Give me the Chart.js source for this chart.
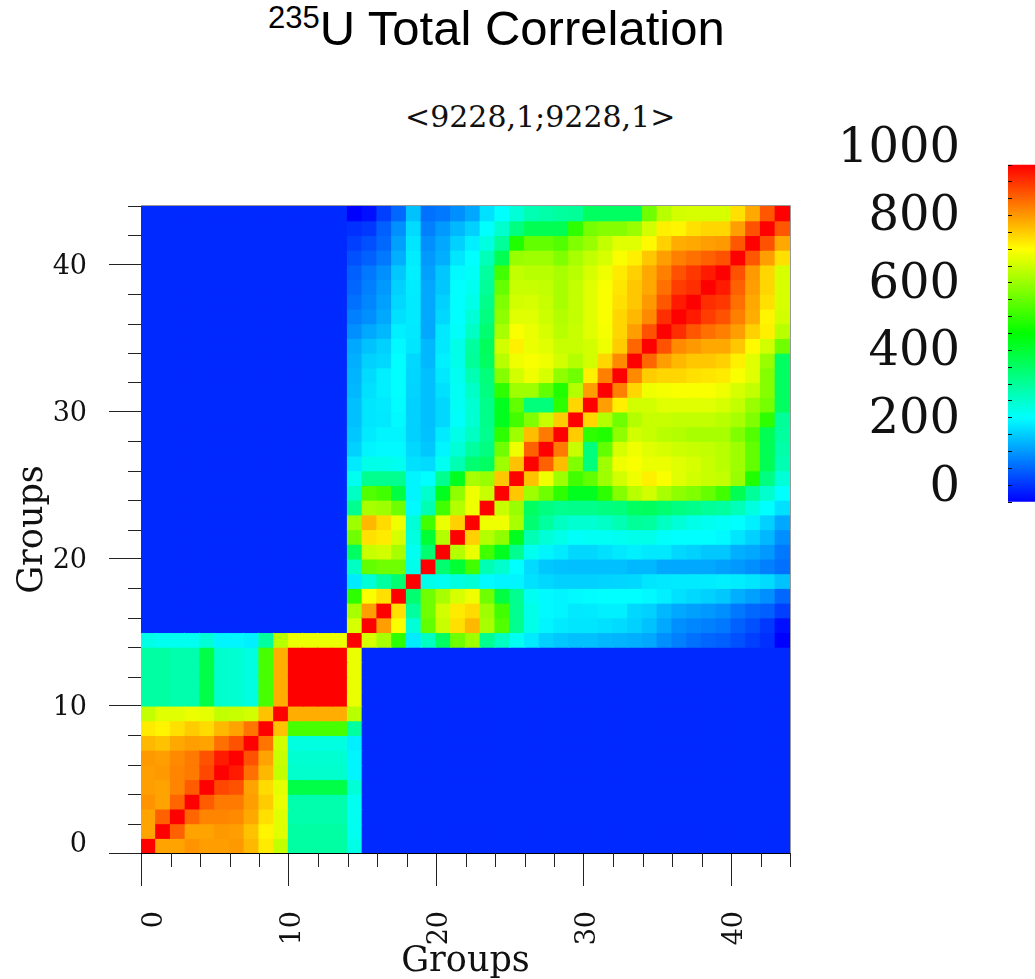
<!DOCTYPE html>
<html>
<head>
<meta charset="utf-8">
<title>235U Total Correlation</title>
<script src="https://cdn.jsdelivr.net/npm/chart.js@4"></script>
<style>
  html, body { margin: 0; background: #fff; overflow: hidden; }
  #page { position: relative; width: 1035px; height: 979px; overflow: hidden; }
  canvas { position: absolute; top: 0; }
  #matrix { left: 0; }
  #colorbar { left: 800px; }
  #title { position: absolute; left: 268px; top: -1px; font: 49px/58px "Liberation Sans", sans-serif; color: #000; white-space: nowrap; }
  #title sup { font-size: 31px; line-height: 0; vertical-align: 17px; }
  #subtitle { position: absolute; left: 405px; top: 99px; font: 30px/36px "DejaVu Serif", serif; color: #111; white-space: nowrap; }
</style>
</head>
<body>
<div id="page">
  <div id="title"><sup>235</sup>U Total Correlation</div>
  <div id="subtitle">&lt;9228,1;9228,1&gt;</div>
  <canvas id="matrix" width="800" height="979"></canvas>
  <canvas id="colorbar" width="235" height="520"></canvas>
</div>
<script>
/* colour scale: value and colour of each stop */
const stopValues = [0, 250, 500, 750, 1000];
const stopColors = [[0, 0, 255], [0, 255, 255], [0, 255, 0], [255, 255, 0], [255, 0, 0]];

const groupCount = 44;
const majorTicks = [0, 10, 20, 30, 40];
const minorTicks = [2, 4, 6, 8, 12, 14, 16, 18, 22, 24, 26, 28, 32, 34, 36, 38, 42, 44];
const colorbarLabels = [0, 200, 400, 600, 800, 1000];
const colorbarTicks = [0, 50, 100, 150, 200, 250, 300, 350, 400, 450, 500, 550, 600, 650, 700, 750, 800, 850, 900, 950, 1000];

/* groups 15-43 against groups 0-13: the plain blue blocks */
const noCoupling = [40, 40, 40, 40, 40, 40, 40, 40, 40, 40, 40, 40, 40, 40, 40, 40, 40, 40, 40, 40, 40, 40, 40, 40, 40, 40, 40, 40, 40];

/* upper triangle of the matrix: each row starts on the diagonal */
const upperRows = [
  [1000, 840, 840, 855, 845, 845, 850, 820, 770, 690, 340, 340, 340, 340, 275, ...noCoupling],
  [1000, 905, 840, 840, 850, 845, 810, 760, 720, 340, 340, 340, 340, 265, ...noCoupling],
  [1000, 900, 870, 870, 865, 835, 780, 720, 330, 330, 330, 330, 265, ...noCoupling],
  [1000, 910, 880, 880, 845, 800, 730, 330, 330, 330, 330, 265, ...noCoupling],
  [1000, 930, 920, 840, 785, 725, 430, 430, 430, 430, 290, ...noCoupling],
  [1000, 975, 890, 820, 690, 300, 300, 300, 300, 240, ...noCoupling],
  [1000, 920, 840, 695, 295, 295, 295, 295, 240, ...noCoupling],
  [1000, 885, 705, 280, 280, 280, 280, 235, ...noCoupling],
  [1000, 810, 570, 570, 570, 570, 345, ...noCoupling],
  [1000, 830, 830, 830, 830, 680, ...noCoupling],
  [1000, 1000, 1000, 1000, 730, ...noCoupling],
  [1000, 1000, 1000, 730, ...noCoupling],
  [1000, 1000, 730, ...noCoupling],
  [1000, 730, ...noCoupling],
  [1000, 710, 665, 545, 230, 310, 405, 610, 655, 360, 310, 265, 230, 205, 195, 188, 188, 180, 176, 172, 165, 140, 125, 110, 100, 94, 78, 62, 47, 0],
  [1000, 845, 745, 290, 595, 695, 780, 820, 665, 580, 360, 272, 240, 230, 225, 225, 220, 215, 205, 190, 165, 140, 132, 125, 118, 95, 78, 55, 15],
  [1000, 780, 345, 610, 705, 770, 785, 655, 565, 360, 272, 245, 240, 228, 230, 235, 235, 212, 205, 180, 165, 157, 150, 140, 118, 102, 94, 62],
  [1000, 390, 610, 665, 710, 735, 610, 435, 360, 265, 245, 240, 245, 248, 250, 250, 250, 245, 235, 220, 212, 205, 196, 172, 157, 140, 102],
  [1000, 270, 265, 280, 290, 245, 240, 240, 220, 212, 205, 205, 205, 208, 210, 212, 225, 228, 230, 230, 232, 235, 232, 225, 215, 190],
  [1000, 390, 450, 565, 325, 300, 250, 215, 196, 190, 188, 188, 188, 188, 180, 180, 165, 165, 165, 165, 157, 150, 140, 125, 110],
  [1000, 675, 730, 565, 470, 360, 265, 240, 230, 212, 212, 220, 228, 235, 228, 228, 212, 205, 196, 196, 172, 165, 150, 118],
  [1000, 795, 675, 640, 470, 325, 290, 272, 255, 260, 260, 265, 270, 272, 255, 250, 250, 250, 245, 225, 205, 180, 140],
  [1000, 735, 735, 665, 390, 345, 310, 295, 295, 305, 325, 350, 345, 310, 290, 272, 265, 258, 250, 235, 205, 165],
  [1000, 695, 650, 405, 375, 360, 365, 365, 375, 380, 405, 410, 390, 375, 365, 350, 345, 320, 280, 250, 220],
  [1000, 805, 655, 610, 545, 470, 470, 545, 630, 680, 705, 665, 640, 625, 600, 565, 420, 350, 300, 250],
  [1000, 810, 735, 655, 565, 595, 655, 705, 735, 765, 745, 720, 705, 695, 690, 650, 530, 375, 290],
  [1000, 905, 815, 625, 380, 655, 735, 745, 730, 730, 720, 710, 695, 680, 655, 595, 420, 325],
  [1000, 880, 695, 380, 595, 710, 735, 720, 710, 700, 695, 690, 680, 655, 595, 420, 335],
  [1000, 800, 545, 530, 640, 705, 695, 680, 675, 665, 665, 665, 625, 580, 420, 345],
  [1000, 790, 675, 610, 675, 695, 695, 690, 690, 690, 680, 665, 625, 545, 350],
  [1000, 845, 765, 705, 705, 720, 720, 720, 720, 710, 690, 650, 615, 405],
  [1000, 875, 790, 735, 740, 745, 745, 745, 735, 710, 690, 630, 405],
  [1000, 865, 800, 790, 790, 780, 775, 770, 745, 720, 630, 405],
  [1000, 900, 845, 820, 805, 805, 795, 765, 720, 650, 405],
  [1000, 920, 865, 850, 835, 835, 805, 755, 705, 610],
  [1000, 955, 915, 890, 875, 845, 795, 765, 680],
  [1000, 975, 940, 920, 875, 830, 760, 705],
  [1000, 955, 945, 890, 835, 780, 710],
  [1000, 975, 905, 845, 790, 710],
  [1000, 920, 850, 790, 710],
  [1000, 915, 845, 780],
  [1000, 920, 835],
  [1000, 915],
  [1000]
];

function valueColor(v) {
  let i = 0;
  while (i < stopValues.length - 2 && v > stopValues[i + 1]) i++;
  const t = (v - stopValues[i]) / (stopValues[i + 1] - stopValues[i]);
  const rgb = stopColors[i].map((c, k) => Math.round(c + (stopColors[i + 1][k] - c) * t));
  return `rgb(${rgb.join(',')})`;
}

/* the matrix is symmetric, so each off-diagonal value gives two cells */
const cells = [];
upperRows.forEach((row, r) => {
  row.forEach((v, k) => {
    const c = r + k;
    cells.push({ x: c + 0.5, y: [r, r + 1], v });
    if (c !== r) cells.push({ x: r + 0.5, y: [c, c + 1], v });
  });
});

const tickFont = { family: 'DejaVu Serif', size: 27 };
const titleFont = { family: 'DejaVu Serif', size: 35, lineHeight: 1 };
const axisColor = '#222';

/* short ticks every 2 groups and the thin frame on the open sides */
const groupFrame = {
  id: 'groupFrame',
  afterDatasetsDraw(chart) {
    const { ctx, chartArea, scales } = chart;
    ctx.save();
    ctx.lineWidth = 1;
    ctx.strokeStyle = axisColor;
    ctx.beginPath();
    minorTicks.forEach(v => {
      const px = Math.round(scales.x.getPixelForValue(v)) + 0.5;
      ctx.moveTo(px, chartArea.bottom);
      ctx.lineTo(px, chartArea.bottom + 14);
      const py = Math.round(scales.y.getPixelForValue(v)) + 0.5;
      ctx.moveTo(chartArea.left, py);
      ctx.lineTo(chartArea.left - 13, py);
    });
    ctx.stroke();
    ctx.strokeStyle = '#999';
    ctx.beginPath();
    ctx.moveTo(chartArea.left, chartArea.top - 0.5);
    ctx.lineTo(chartArea.right + 0.5, chartArea.top - 0.5);
    ctx.lineTo(chartArea.right + 0.5, chartArea.bottom);
    ctx.stroke();
    ctx.restore();
  }
};

new Chart(document.getElementById('matrix'), {
  type: 'bar',
  data: {
    datasets: [{
      data: cells,
      backgroundColor: ctx => valueColor(ctx.raw.v),
      borderWidth: 0,
      inflateAmount: 0.6,
      barPercentage: 1,
      categoryPercentage: 1
    }]
  },
  plugins: [groupFrame],
  options: {
    responsive: false,
    animation: false,
    layout: { padding: { top: 206, right: 10, left: 0, bottom: 0 } },
    plugins: { legend: { display: false }, tooltip: { enabled: false } },
    events: [],
    scales: {
      x: {
        type: 'linear',
        offset: false,
        min: 0,
        max: groupCount,
        afterBuildTicks: s => { s.ticks = majorTicks.map(value => ({ value })); },
        afterFit: s => { s.height = 126; s.paddingLeft = 0; s.paddingRight = 0; },
        grid: { offset: false, drawOnChartArea: false, tickLength: 33, color: axisColor },
        border: { color: '#000' },
        ticks: {
          autoSkip: false,
          minRotation: 90,
          maxRotation: 90,
          padding: 25,
          labelOffset: 4,
          color: '#111',
          font: { ...tickFont, lineHeight: '10px' },
          callback: v => (v === 0 ? ['', '0'] : String(v))
        },
        title: { display: true, text: 'Groups', color: '#111', font: titleFont, padding: { top: 0, bottom: 0 } }
      },
      y: {
        type: 'linear',
        min: 0,
        max: groupCount,
        afterBuildTicks: s => { s.ticks = majorTicks.map(value => ({ value })); },
        afterFit: s => { s.width = 141; s.paddingTop = 0; s.paddingBottom = 0; },
        grid: { drawOnChartArea: false, tickLength: 32, color: axisColor },
        border: { color: '#000' },
        ticks: {
          autoSkip: false,
          padding: 22,
          labelOffset: 2,
          color: '#111',
          font: { ...tickFont, lineHeight: '20px' },
          callback: v => (v === 0 ? ['0', ''] : String(v))
        },
        title: { display: true, text: 'Groups', color: '#111', font: titleFont, padding: { top: 15, bottom: 0 } }
      }
    }
  }
});

/* colour key, its numbers sit a little above the bar as in the figure */
new Chart(document.getElementById('colorbar'), {
  type: 'bar',
  data: {
    labels: ['key'],
    datasets: [{
      data: [[0, 1000]],
      yAxisID: 'y',
      borderWidth: 0,
      barPercentage: 1,
      categoryPercentage: 1,
      backgroundColor: ctx => {
        const { chart } = ctx;
        if (!chart.chartArea) return valueColor(500);
        const y = chart.scales.y;
        const g = chart.ctx.createLinearGradient(0, y.getPixelForValue(0), 0, y.getPixelForValue(1000));
        stopValues.forEach(v => g.addColorStop(v / 1000, valueColor(v)));
        return g;
      }
    }]
  },
  options: {
    responsive: false,
    animation: false,
    events: [],
    layout: { padding: { top: 130, right: 0, left: 0, bottom: 18 } },
    plugins: { legend: { display: false }, tooltip: { enabled: false } },
    scales: {
      x: { display: false },
      y: {
        position: 'left',
        min: 0,
        max: 1104,
        weight: 0,
        afterBuildTicks: s => { s.ticks = colorbarTicks.map(value => ({ value })); },
        afterFit: s => { s.width = 0; s.paddingTop = 0; s.paddingBottom = 0; },
        ticks: { display: false },
        border: { display: false },
        grid: { drawOnChartArea: false, tickLength: -4, color: '#111', z: 1 }
      },
      yLabels: {
        position: 'left',
        min: -50,
        max: 1050,
        weight: 1,
        afterBuildTicks: s => { s.ticks = colorbarLabels.map(value => ({ value })); },
        afterFit: s => { s.width = 208; s.paddingTop = 0; s.paddingBottom = 0; },
        border: { display: false },
        grid: { display: false, drawTicks: false },
        ticks: {
          autoSkip: false,
          padding: 48,
          labelOffset: 3,
          color: '#111',
          font: { family: 'DejaVu Serif', size: 48 },
          callback: v => String(v)
        }
      }
    }
  }
});
</script>
</body>
</html>
